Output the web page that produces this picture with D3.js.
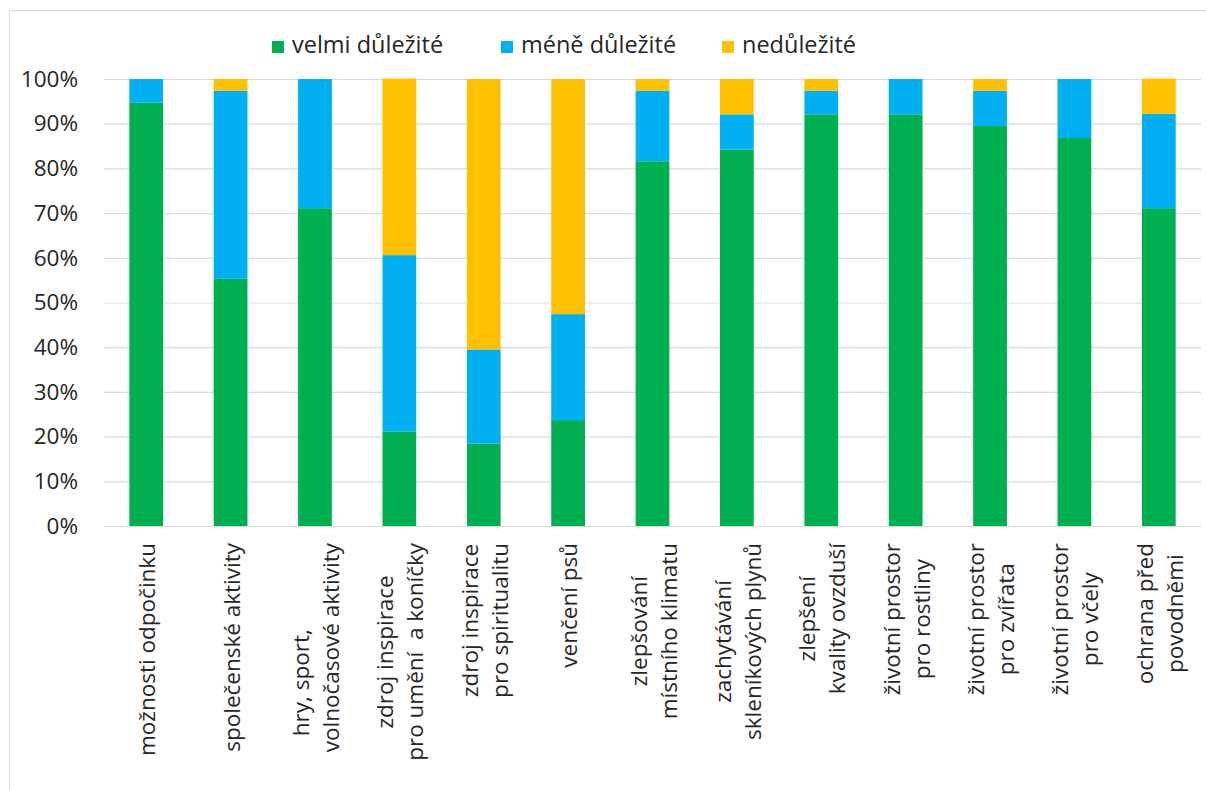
<!DOCTYPE html>
<html lang="cs">
<head>
<meta charset="utf-8">
<script src="https://cdn.jsdelivr.net/npm/d3@7"></script>
<style>
  html, body { margin: 0; padding: 0; background: #fff; }
  svg { display: block; font-family: "Open Sans", "Noto Sans", sans-serif; }
  .lbl { white-space: pre; }
</style>
</head>
<body>
<svg id="chart" width="1206" height="790"></svg>
<script>
// Categories (each "\n" starts a new label line)
const categories = [
  "možnosti odpočinku",
  "společenské aktivity",
  "hry, sport,            \nvolnočasové aktivity",
  "zdroj inspirace\npro umění  a koníčky",
  "zdroj inspirace\npro spiritualitu",
  "venčení psů",
  "zlepšování\nmístního klimatu",
  "zachytávání\nskleníkových plynů",
  "zlepšení\nkvality ovzduší",
  "životní prostor\npro rostliny",
  "životní prostor\npro zvířata",
  "životní prostor\npro včely",
  "ochrana před\npovodněmi"
];

// Share of answers per category, in percent
const velmiDulezite = [94.7, 55.3, 71.1, 21.1, 18.4, 23.7, 81.6, 84.2, 92.1, 92.1, 89.5, 86.8, 71.1];
const meneDulezite  = [ 5.3, 42.1, 28.9, 39.5, 21.1, 23.7, 15.8,  7.9,  5.3,  7.9,  7.9, 13.2, 21.1];
const nedulezite    = [ 0.0,  2.6,  0.0, 39.5, 60.5, 52.6,  2.6,  7.9,  2.6,  0.0,  2.6,  0.0,  7.9];

const seriesNames  = ["velmi důležité", "méně důležité", "nedůležité"];
const seriesColors = ["#00B050", "#00B0F0", "#FFC000"];
const yTicks = [0, 10, 20, 30, 40, 50, 60, 70, 80, 90, 100];

const svg = d3.select("#chart");
const W = 1206, H = 790;
const plot = { left: 104, right: 1201, top: 79, bottom: 526 };
const textColor = "#262626";
const fontSize = 22.5;

// chart area frame
svg.append("rect")
  .attr("x", 9.5).attr("y", 10.5)
  .attr("width", W + 20).attr("height", H + 20)
  .attr("fill", "#fff").attr("stroke", "#d9d9d9").attr("stroke-width", 1);

const x = d3.scaleBand()
  .domain(categories)
  .range([plot.left, plot.right])
  .paddingInner(0.6)
  .paddingOuter(0.3);

const y = d3.scaleLinear().domain([0, 100]).range([plot.bottom, plot.top]);

// gridlines
svg.append("g")
  .attr("transform", `translate(${plot.left},0)`)
  .call(d3.axisLeft(y).tickValues(yTicks).tickSize(-(plot.right - plot.left)).tickFormat(""))
  .call(g => g.select(".domain").remove())
  .call(g => g.selectAll(".tick line").attr("stroke", "#d9d9d9").attr("stroke-width", 1.2));

// y axis labels
svg.append("g")
  .attr("transform", `translate(${plot.left},0)`)
  .call(d3.axisLeft(y).tickValues(yTicks).tickSize(0).tickPadding(26).tickFormat(d => d + "%"))
  .call(g => g.select(".domain").remove())
  .call(g => g.selectAll("text")
    .attr("fill", textColor)
    .style("font-size", fontSize + "px")
    .style("font-family", "'Open Sans', sans-serif"));

// stacked bars
const rows = categories.map((c, i) => ({
  cat: c,
  [seriesNames[0]]: velmiDulezite[i],
  [seriesNames[1]]: meneDulezite[i],
  [seriesNames[2]]: nedulezite[i]
}));
const stacked = d3.stack().keys(seriesNames)(rows);

svg.append("g")
  .selectAll("g")
  .data(stacked)
  .join("g")
  .attr("fill", (d, i) => seriesColors[i])
  .selectAll("rect")
  .data(d => d.filter(p => p[1] - p[0] > 0))
  .join("rect")
  .attr("x", d => x(d.data.cat))
  .attr("width", x.bandwidth())
  .attr("y", d => y(d[1]))
  .attr("height", d => y(d[0]) - y(d[1]));

// rotated category labels, lines centred on each other, block hanging from below the axis
const labelTop = 543;
const lineH = 30;
const labelG = svg.append("g");
categories.forEach(cat => {
  const lines = cat.split("\n");
  const cx = x(cat) + x.bandwidth() / 2;
  const g = labelG.append("g");
  const texts = lines.map(ln =>
    g.append("text")
      .attr("class", "lbl")
      .attr("text-anchor", "middle")
      .attr("fill", textColor)
      .style("font-size", fontSize + "px")
      .text(ln)
  );
  const maxLen = d3.max(texts, t => t.node().getComputedTextLength());
  const cy = labelTop + maxLen / 2;
  texts.forEach((t, i) => {
    const bx = cx + (i - (lines.length - 1) / 2) * lineH + 9;
    t.attr("transform", `translate(${bx},${cy}) rotate(-90)`);
  });
});

// legend
const legendX = [272, 501, 722];
const legend = svg.append("g");
seriesNames.forEach((name, i) => {
  const item = legend.append("g").attr("transform", `translate(${legendX[i]},0)`);
  item.append("rect")
    .attr("x", 0).attr("y", 41)
    .attr("width", 12).attr("height", 12)
    .attr("fill", seriesColors[i]);
  item.append("text")
    .attr("x", 20).attr("y", 53)
    .attr("fill", textColor)
    .style("font-size", "23.5px")
    .text(name);
});
</script>
</body>
</html>
